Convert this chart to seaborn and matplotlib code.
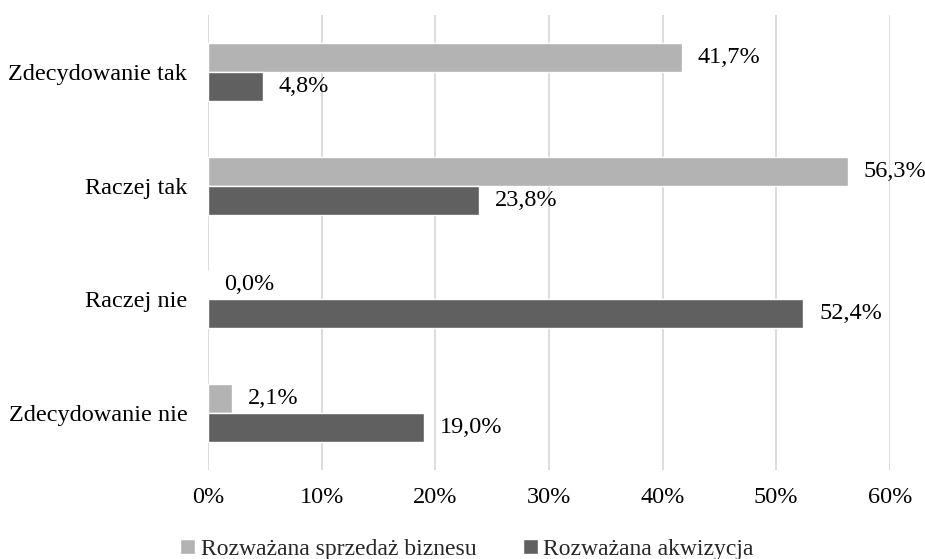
import pandas as pd
import matplotlib.pyplot as plt
import seaborn as sns
from matplotlib.ticker import FuncFormatter
from matplotlib.font_manager import FontProperties

## dados
kategorie = ['Zdecydowanie tak', 'Raczej tak', 'Raczej nie', 'Zdecydowanie nie']
serie = ['Rozważana sprzedaż biznesu', 'Rozważana akwizycja']
sprzedaz = [41.7, 56.3, 0.0, 2.1]
akwizycja = [4.8, 23.8, 52.4, 19.0]
kolory = ['#B3B3B3', '#606060']

dane = pd.DataFrame({
    'kategoria': kategorie * 2,
    'seria': [serie[0]] * 4 + [serie[1]] * 4,
    'wartosc': sprzedaz + akwizycja,
})

sns.set_theme(style='white')
plt.rcParams['font.family'] = ['Liberation Serif', 'DejaVu Serif']
fs = 17.5

fig = plt.figure(figsize=(9.25, 5.59), dpi=100)
ax = fig.add_axes([0.225, 0.159, 0.737, 0.814])

sns.barplot(
    data=dane, x='wartosc', y='kategoria', hue='seria',
    order=kategorie, hue_order=serie, palette=kolory,
    orient='h', width=0.51, gap=0, saturation=1, ax=ax, legend=True
)

# etykiety przy slupkach
for kont in ax.containers:
    for rect in kont:
        w = rect.get_width()
        y = rect.get_y() + rect.get_height() / 2
        ax.text(w + 1.4, y, f'{w:.1f}%'.replace('.', ','),
                va='center', ha='left', fontsize=fs, color='#000000')

ax.set_xlim(0, 60)
ax.set_xticks(range(0, 61, 10))
ax.xaxis.set_major_formatter(FuncFormatter(lambda v, p: f'{v:.0f}%'))
ax.grid(axis='x', color='#D9D9D9', linewidth=1.3)
ax.set_axisbelow(True)
for s in ax.spines.values():
    s.set_visible(False)
ax.tick_params(axis='x', length=0, labelsize=fs, colors='#000000', pad=12)
ax.tick_params(axis='y', length=0, labelsize=fs, colors='#000000', pad=15)
ax.set_xlabel('')
ax.set_ylabel('')

uchwyty, etykiety = ax.get_legend_handles_labels()
ax.get_legend().remove()
leg = fig.legend(
    uchwyty, etykiety,
    loc='lower center', bbox_to_anchor=(0.505, -0.04), ncol=2, frameon=False,
    prop=FontProperties(family='Liberation Serif', size=17),
    handlelength=0.6, handleheight=0.6, handletextpad=0.25,
    columnspacing=2.0
)

plt.savefig('out.png', dpi=100)
